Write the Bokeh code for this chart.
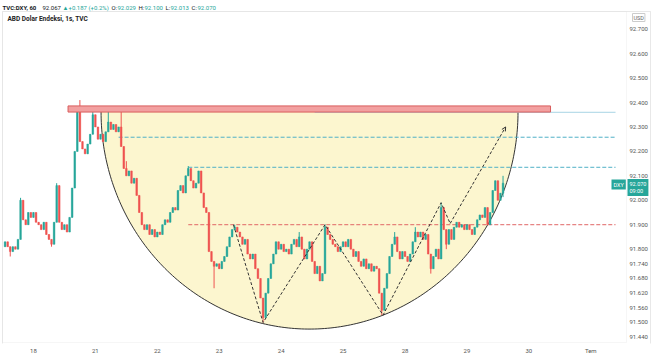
import numpy as np
from bokeh.plotting import figure
from bokeh.models import (ColumnDataSource, Range1d, FixedTicker, Label, BoxAnnotation,
                          Arrow, OpenHead)
from bokeh.core.properties import value
from bokeh.embed import file_html
from bokeh.resources import INLINE

# ---------------- data (hourly DXY candles) ----------------
first_open = 91.81
closes = [
    91.83, 91.81, 91.79, 91.81, 91.80, 91.84, 92.00, 91.92, 91.90, 91.95,
    91.93, 91.95, 91.91, 91.90, 91.88, 91.91, 91.86, 91.84, 91.82, 91.91,
    92.06, 91.91, 91.88, 91.90, 91.87, 91.93, 92.05, 92.20, 92.36, 92.24,
    92.21, 92.19, 92.23, 92.27, 92.35, 92.30, 92.25, 92.27, 92.24, 92.28,
    92.32, 92.29, 92.31, 92.28, 92.30, 92.22, 92.13, 92.10, 92.12, 92.07,
    92.09, 92.02, 91.95, 91.90, 91.88, 91.90, 91.86, 91.88, 91.85, 91.87,
    91.86, 91.90, 91.92, 91.91, 91.95, 91.97, 91.96, 92.04, 92.06, 92.03,
    92.10, 92.13, 92.08, 92.05, 92.07, 92.12, 92.03, 91.97, 91.95, 91.79,
    91.75, 91.73, 91.74, 91.72, 91.75, 91.77, 91.81, 91.85, 91.88, 91.89,
    91.87, 91.85, 91.82, 91.84, 91.78, 91.76, 91.78, 91.72, 91.68, 91.60,
    91.52, 91.62, 91.68, 91.74, 91.78, 91.83, 91.80, 91.82, 91.79, 91.80,
    91.78, 91.82, 91.84, 91.81, 91.85, 91.80, 91.76, 91.80, 91.83, 91.75,
    91.70, 91.73, 91.67, 91.70, 91.89, 91.86, 91.84, 91.82, 91.81, 91.79,
    91.81, 91.83, 91.81, 91.84, 91.80, 91.77, 91.79, 91.75, 91.73, 91.76,
    91.72, 91.74, 91.71, 91.73, 91.72, 91.62, 91.55, 91.64, 91.70, 91.77,
    91.82, 91.85, 91.79, 91.76, 91.79, 91.77, 91.75, 91.78, 91.83, 91.87,
    91.85, 91.87, 91.84, 91.86, 91.78, 91.72, 91.77, 91.80, 91.76, 91.97,
    91.88, 91.82, 91.88, 91.84, 91.89, 91.91, 91.89, 91.90, 91.88, 91.90,
    91.88, 91.86, 91.89, 91.92, 91.94, 91.93, 91.97, 91.90, 91.95, 92.04,
    92.08, 92.00, 92.029, 92.07,
]
wick_highs = {6: 92.01, 20: 92.07, 28: 92.37, 29: 92.41, 34: 92.37, 40: 92.37,
              45: 92.38, 47: 92.16, 71: 92.14, 89: 91.90, 114: 91.87, 124: 91.90,
              151: 91.87, 159: 91.89, 169: 91.99, 193: 92.10}
wick_lows = {2: 91.77, 18: 91.81, 81: 91.64, 100: 91.50, 146: 91.53,
             165: 91.70, 171: 91.80, 193: 92.013}

day_ticks = [11, 35, 59, 83, 107, 131, 155, 179, 203, 227]
day_labels = ["18", "21", "22", "23", "24", "25", "28", "29", "30", "Tem"]
price_ticks = [92.7, 92.6, 92.5, 92.4, 92.3, 92.2, 92.1, 92.0, 91.9, 91.8,
               91.74, 91.68, 91.62, 91.56, 91.5, 91.44]

# drawings on the chart
band_left, band_right, band_bottom, band_top = 24.4, 211.4, 92.361, 92.386
cup_center_bar, cup_half_width, cup_top, cup_depth = 118.0, 80.8, 92.361, 0.888
ray_levels = [92.36, 92.258, 92.135, 91.90]
ray_starts = [120, 44, 71, 71]
ray_colors = ["#a8d4e4", "#4fb0c6", "#4fb0c6", "#e06666"]
ray_dashes = ["solid", "4 2", "4 2", "4 2"]
zigzag_bars = [88.5, 100, 124, 146.5, 169, 172.5]
zigzag_prices = [91.90, 91.50, 91.90, 91.53, 91.99, 91.905]
target_bar, target_price = 194, 92.30
last_price = "92.070"

# ---------------- build candles ----------------
n = len(closes)
idx = list(range(n))
opens = [first_open] + closes[:-1]
highs = [wick_highs.get(i, max(opens[i], closes[i])) for i in idx]
lows = [wick_lows.get(i, min(opens[i], closes[i])) for i in idx]
UP, DOWN = "#26a69a", "#ef5350"
colors = [UP if closes[i] >= opens[i] else DOWN for i in idx]
src = ColumnDataSource(dict(x=idx, o=opens, c=closes, h=highs, l=lows, col=colors))

X0, X1 = -1.775, 251.7     # whole canvas width is the frame
RAY_END = 236.6             # end of the chart pane (before price scale)
PRICE_COL = 242.0           # x position of the price-scale labels
p = figure(width=654, height=358, output_backend="svg", toolbar_location=None,
           x_range=Range1d(X0, X1), y_range=Range1d(91.414, 92.8174),
           min_border_left=0, min_border_top=0, min_border_right=0,
           min_border_bottom=15)
p.background_fill_color = "white"
p.border_fill_color = "white"
p.outline_line_color = None
p.grid.visible = False
p.yaxis.visible = False

FONT = "Roboto"

# pane borders: outer box and chart pane (separators to price / time scale)
p.add_layout(BoxAnnotation(left=2, right=650, bottom=-12, top=332,
                           left_units="screen", right_units="screen",
                           bottom_units="screen", top_units="screen",
                           fill_alpha=0, line_color="#b4b4b4", line_width=1))
p.add_layout(BoxAnnotation(left=2, right=626, bottom=1, top=332,
                           left_units="screen", right_units="screen",
                           bottom_units="screen", top_units="screen",
                           fill_alpha=0, line_color="#e2e2e2", line_width=1))

# cup
t = np.linspace(np.pi, 2 * np.pi, 200)
cx = cup_center_bar + cup_half_width * np.cos(t)
cy = cup_top + cup_depth * np.sin(t)
p.patch(cx, cy, fill_color="#fcf6cf", line_color=None)
p.line(cx, cy, line_color="#333333", line_width=1)

# horizontal rays
for lvl, st, colr, dsh in zip(ray_levels, ray_starts, ray_colors, ray_dashes):
    p.line([st, RAY_END], [lvl, lvl], line_color=colr, line_width=1, line_dash=dsh)

# candles
p.segment("x", "h", "x", "l", source=src, line_color="col", line_width=1)
p.vbar(x="x", top="o", bottom="c", width=0.62, source=src,
       fill_color="col", line_color="col", line_width=0.5)

# resistance band
p.quad(left=[band_left], right=[band_right], bottom=[band_bottom], top=[band_top],
       fill_color="#f2a0a0", line_color="#d95c5c", line_width=1)

# zigzag + projection arrow
p.line(zigzag_bars, zigzag_prices, line_color="#333333", line_width=1, line_dash="3 2")
p.add_layout(Arrow(end=OpenHead(size=4, line_color="#333333", line_width=1),
                   x_start=zigzag_bars[-1], y_start=zigzag_prices[-1],
                   x_end=target_bar, y_end=target_price,
                   line_color="#333333", line_width=1, line_dash="3 2"))

# price scale labels (placed with the price scale)
tick_src = ColumnDataSource(dict(x=[PRICE_COL] * len(price_ticks), y=price_ticks,
                                 t=["%.3f" % v for v in price_ticks]))
p.text("x", "y", text="t", source=tick_src, text_font=value(FONT),
       text_font_size="6px", text_color="#555555", text_baseline="middle",
       text_align="left")

# time axis
xa = p.xaxis[0]
xa.ticker = FixedTicker(ticks=day_ticks)
xa.major_label_overrides = {k: v for k, v in zip(day_ticks, day_labels)}
xa.major_label_text_font_size = "6px"
xa.major_label_text_color = "#555555"
xa.major_label_text_font = FONT
xa.axis_line_color = None
xa.major_tick_line_color = None
xa.minor_tick_line_color = None
xa.major_tick_out = 0
xa.major_tick_in = 0
xa.major_label_standoff = 3

# header legend
DARK, GREEN = "#131722", "#26a69a"
header = [(2, "TVC:DXY, 60", DARK, "bold"), (42, "92.067", DARK, "normal"),
          (62, "\u25b2", GREEN, "normal"), (68, "+0.187 (+0.2%)", GREEN, "normal"),
          (111, "O:", DARK, "normal"), (117, "92.029", GREEN, "normal"),
          (138, "H:", DARK, "normal"), (144, "92.100", GREEN, "normal"),
          (165, "L:", DARK, "normal"), (170, "92.013", GREEN, "normal"),
          (191, "C:", DARK, "normal"), (197, "92.070", GREEN, "normal")]
for hx, txt, colr, style in header:
    p.add_layout(Label(x=hx, y=336, x_units="screen", y_units="screen", text=txt,
                       text_font=FONT, text_font_size="6px", text_color=colr,
                       text_font_style=style, text_baseline="middle"))
p.add_layout(Label(x=7, y=325, x_units="screen", y_units="screen",
                   text="ABD Dolar Endeksi, 1s, TVC", text_font=FONT,
                   text_font_size="6.5px", text_font_style="bold", text_color="#222222",
                   text_baseline="middle"))
p.add_layout(Label(x=632, y=326, x_units="screen", y_units="screen", text="USD",
                   text_font=FONT, text_font_size="5.5px", text_color="#666666",
                   text_baseline="middle", border_line_color="#cccccc",
                   padding=1))

# last price badges
p.add_layout(Label(x=611, y=159, x_units="screen", y_units="screen", text="DXY",
                   text_font=FONT, text_font_size="5.5px", text_color="white",
                   text_baseline="middle", background_fill_color=UP, padding=2))
p.add_layout(Label(x=627, y=156, x_units="screen", y_units="screen",
                   text=last_price + "\n09:00", text_font=FONT, text_font_size="5.5px",
                   text_color="white", text_baseline="middle",
                   background_fill_color=UP, padding=2))

open("out.html", "w").write(file_html(p, INLINE))
